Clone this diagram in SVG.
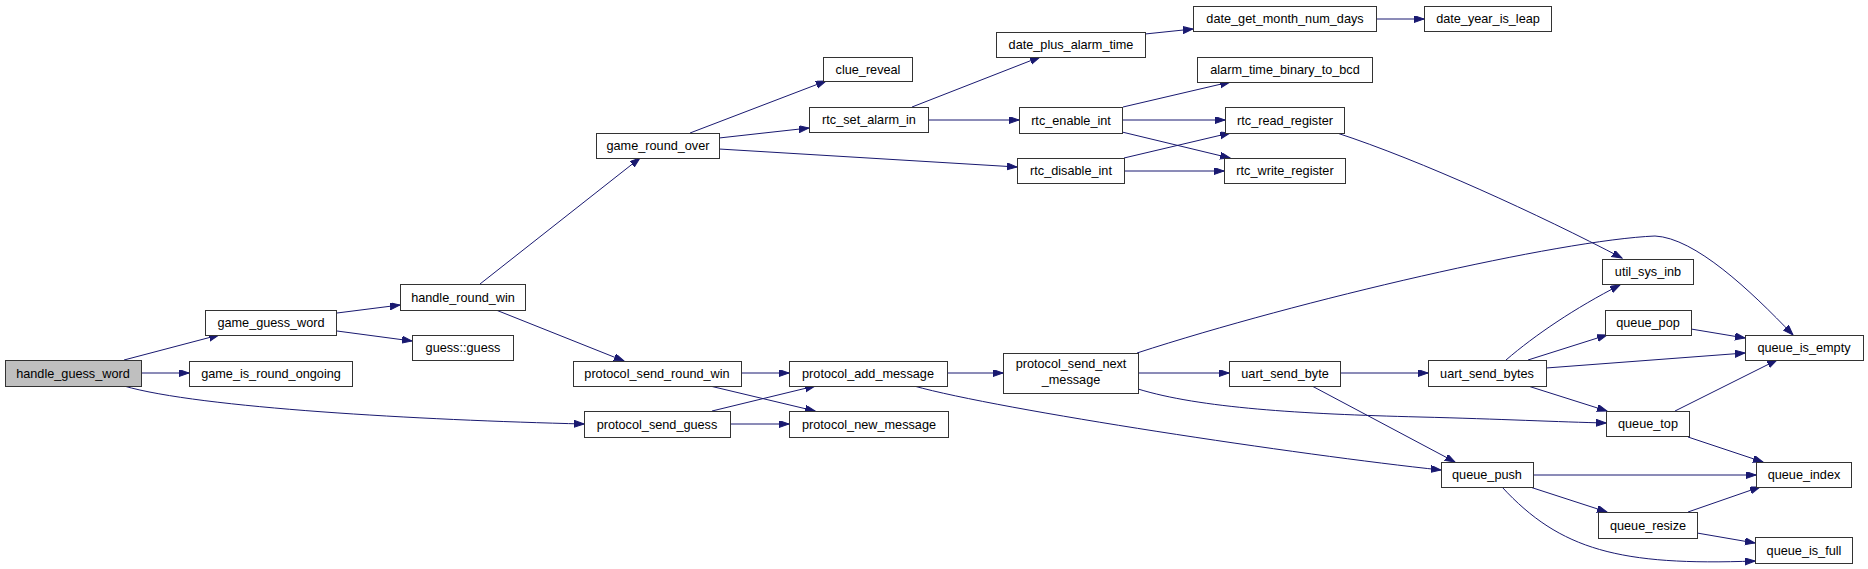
<svg xmlns="http://www.w3.org/2000/svg" width="1868" height="569" viewBox="0 0 1868 569">
<style>
.n rect{fill:#fff;stroke:#333;stroke-width:1}
.n.root rect{fill:#bfbfbf}
.n text{font-family:"Liberation Sans",Arial,sans-serif;font-size:12.7px;fill:#000;text-anchor:middle}
.e path{fill:none;stroke:#191970;stroke-width:1;marker-end:url(#ah)}
</style>
<defs>
<marker id="ah" markerUnits="userSpaceOnUse" markerWidth="11" markerHeight="8" refX="10" refY="3.5" orient="auto"><path d="M0,0 L10,3.5 L0,7 z" fill="#191970" stroke="#191970" stroke-width="1"/></marker>
</defs>
<rect width="1868" height="569" fill="#fff"/>
<g id="edges" class="e">
<path d="M124,360 L219,335"/>
<path d="M141,373 L189,373"/>
<path d="M124,386 C200,408 420,420 584,424"/>
<path d="M337,313 L400,305"/>
<path d="M337,331 L412,341"/>
<path d="M480,284 L640,158"/>
<path d="M496,310 L624,361"/>
<path d="M690,133 L826,81"/>
<path d="M719,138 L809,128"/>
<path d="M719,149 L1017,167"/>
<path d="M912,107 L1040,57"/>
<path d="M928,120 L1019,120"/>
<path d="M1145,34 L1193,29"/>
<path d="M1376,19 L1424,19"/>
<path d="M1123,107 L1230,82"/>
<path d="M1122,120 L1225,120"/>
<path d="M1122,132 L1230,158"/>
<path d="M1124,158 L1230,133"/>
<path d="M1124,171 L1224,171"/>
<path d="M1337,133 C1420,160 1540,215 1622,258"/>
<path d="M741,373 L789,373"/>
<path d="M710,386 L815,411"/>
<path d="M712,411 L815,386"/>
<path d="M730,424 L789,424"/>
<path d="M947,373 L1003,373"/>
<path d="M914,386 C1000,410 1300,455 1441,470"/>
<path d="M1137,353 C1300,300 1560,240 1655,236 C1695,238 1750,290 1793,335"/>
<path d="M1138,373 L1229,373"/>
<path d="M1138,389 C1200,408 1300,414 1420,417 C1500,419 1560,422 1606,423"/>
<path d="M1312,386 L1455,462"/>
<path d="M1340,373 L1428,373"/>
<path d="M1506,360 C1535,335 1575,308 1620,285"/>
<path d="M1528,360 L1607,335"/>
<path d="M1546,368 L1745,353"/>
<path d="M1528,386 L1607,411"/>
<path d="M1691,329 L1745,338"/>
<path d="M1675,411 L1777,360"/>
<path d="M1688,437 L1763,462"/>
<path d="M1533,475 L1756,475"/>
<path d="M1530,487 L1607,512"/>
<path d="M1502,487 C1560,550 1620,566 1755,561"/>
<path d="M1688,512 L1760,487"/>
<path d="M1697,533 L1755,543"/>
</g>
<g id="handle_guess_word" class="n root"><rect x="5.5" y="360.5" width="136" height="26"/><text x="73" y="377.5">handle_guess_word</text></g>
<g id="game_guess_word" class="n"><rect x="205.5" y="310.5" width="131" height="25"/><text x="271" y="327">game_guess_word</text></g>
<g id="game_is_round_ongoing" class="n"><rect x="189.5" y="361.5" width="163" height="25"/><text x="271" y="378">game_is_round_ongoing</text></g>
<g id="protocol_send_guess" class="n"><rect x="584.5" y="411.5" width="146" height="26"/><text x="657" y="428.5">protocol_send_guess</text></g>
<g id="handle_round_win" class="n"><rect x="400.5" y="284.5" width="125" height="26"/><text x="463" y="301.5">handle_round_win</text></g>
<g id="guess_guess" class="n"><rect x="412.5" y="335.5" width="101" height="25"/><text x="463" y="352">guess::guess</text></g>
<g id="game_round_over" class="n"><rect x="596.5" y="133.5" width="123" height="25"/><text x="658" y="150">game_round_over</text></g>
<g id="protocol_send_round_win" class="n"><rect x="573.5" y="361.5" width="168" height="25"/><text x="657" y="378">protocol_send_round_win</text></g>
<g id="clue_reveal" class="n"><rect x="823.5" y="57.5" width="89" height="24"/><text x="868" y="73.5">clue_reveal</text></g>
<g id="rtc_set_alarm_in" class="n"><rect x="809.5" y="107.5" width="119" height="25"/><text x="869" y="124">rtc_set_alarm_in</text></g>
<g id="rtc_disable_int" class="n"><rect x="1017.5" y="158.5" width="107" height="25"/><text x="1071" y="175">rtc_disable_int</text></g>
<g id="date_plus_alarm_time" class="n"><rect x="996.5" y="32.5" width="149" height="25"/><text x="1071" y="49">date_plus_alarm_time</text></g>
<g id="rtc_enable_int" class="n"><rect x="1019.5" y="107.5" width="103" height="26"/><text x="1071" y="124.5">rtc_enable_int</text></g>
<g id="date_get_month_num_days" class="n"><rect x="1193.5" y="6.5" width="183" height="25"/><text x="1285" y="23">date_get_month_num_days</text></g>
<g id="date_year_is_leap" class="n"><rect x="1424.5" y="6.5" width="127" height="25"/><text x="1488" y="23">date_year_is_leap</text></g>
<g id="alarm_time_binary_to_bcd" class="n"><rect x="1197.5" y="57.5" width="175" height="25"/><text x="1285" y="74">alarm_time_binary_to_bcd</text></g>
<g id="rtc_read_register" class="n"><rect x="1225.5" y="107.5" width="119" height="26"/><text x="1285" y="124.5">rtc_read_register</text></g>
<g id="rtc_write_register" class="n"><rect x="1224.5" y="158.5" width="121" height="25"/><text x="1285" y="175">rtc_write_register</text></g>
<g id="util_sys_inb" class="n"><rect x="1602.5" y="259.5" width="91" height="25"/><text x="1648" y="276">util_sys_inb</text></g>
<g id="protocol_add_message" class="n"><rect x="789.5" y="361.5" width="158" height="25"/><text x="868" y="378">protocol_add_message</text></g>
<g id="protocol_new_message" class="n"><rect x="789.5" y="411.5" width="159" height="26"/><text x="869" y="428.5">protocol_new_message</text></g>
<g id="protocol_send_next_message" class="n"><rect x="1003.5" y="353.5" width="135" height="40"/><text x="1071" y="368">protocol_send_next</text><text x="1071" y="384">_message</text></g>
<g id="queue_push" class="n"><rect x="1441.5" y="462.5" width="92" height="25"/><text x="1487" y="479">queue_push</text></g>
<g id="uart_send_byte" class="n"><rect x="1229.5" y="361.5" width="111" height="25"/><text x="1285" y="378">uart_send_byte</text></g>
<g id="queue_top" class="n"><rect x="1606.5" y="411.5" width="83" height="25"/><text x="1648" y="428">queue_top</text></g>
<g id="queue_is_empty" class="n"><rect x="1745.5" y="335.5" width="118" height="25"/><text x="1804" y="352">queue_is_empty</text></g>
<g id="uart_send_bytes" class="n"><rect x="1428.5" y="360.5" width="118" height="26"/><text x="1487" y="377.5">uart_send_bytes</text></g>
<g id="queue_pop" class="n"><rect x="1605.5" y="310.5" width="86" height="25"/><text x="1648" y="327">queue_pop</text></g>
<g id="queue_index" class="n"><rect x="1756.5" y="462.5" width="95" height="25"/><text x="1804" y="479">queue_index</text></g>
<g id="queue_resize" class="n"><rect x="1598.5" y="512.5" width="99" height="26"/><text x="1648" y="529.5">queue_resize</text></g>
<g id="queue_is_full" class="n"><rect x="1755.5" y="537.5" width="97" height="26"/><text x="1804" y="554.5">queue_is_full</text></g>
</svg>
